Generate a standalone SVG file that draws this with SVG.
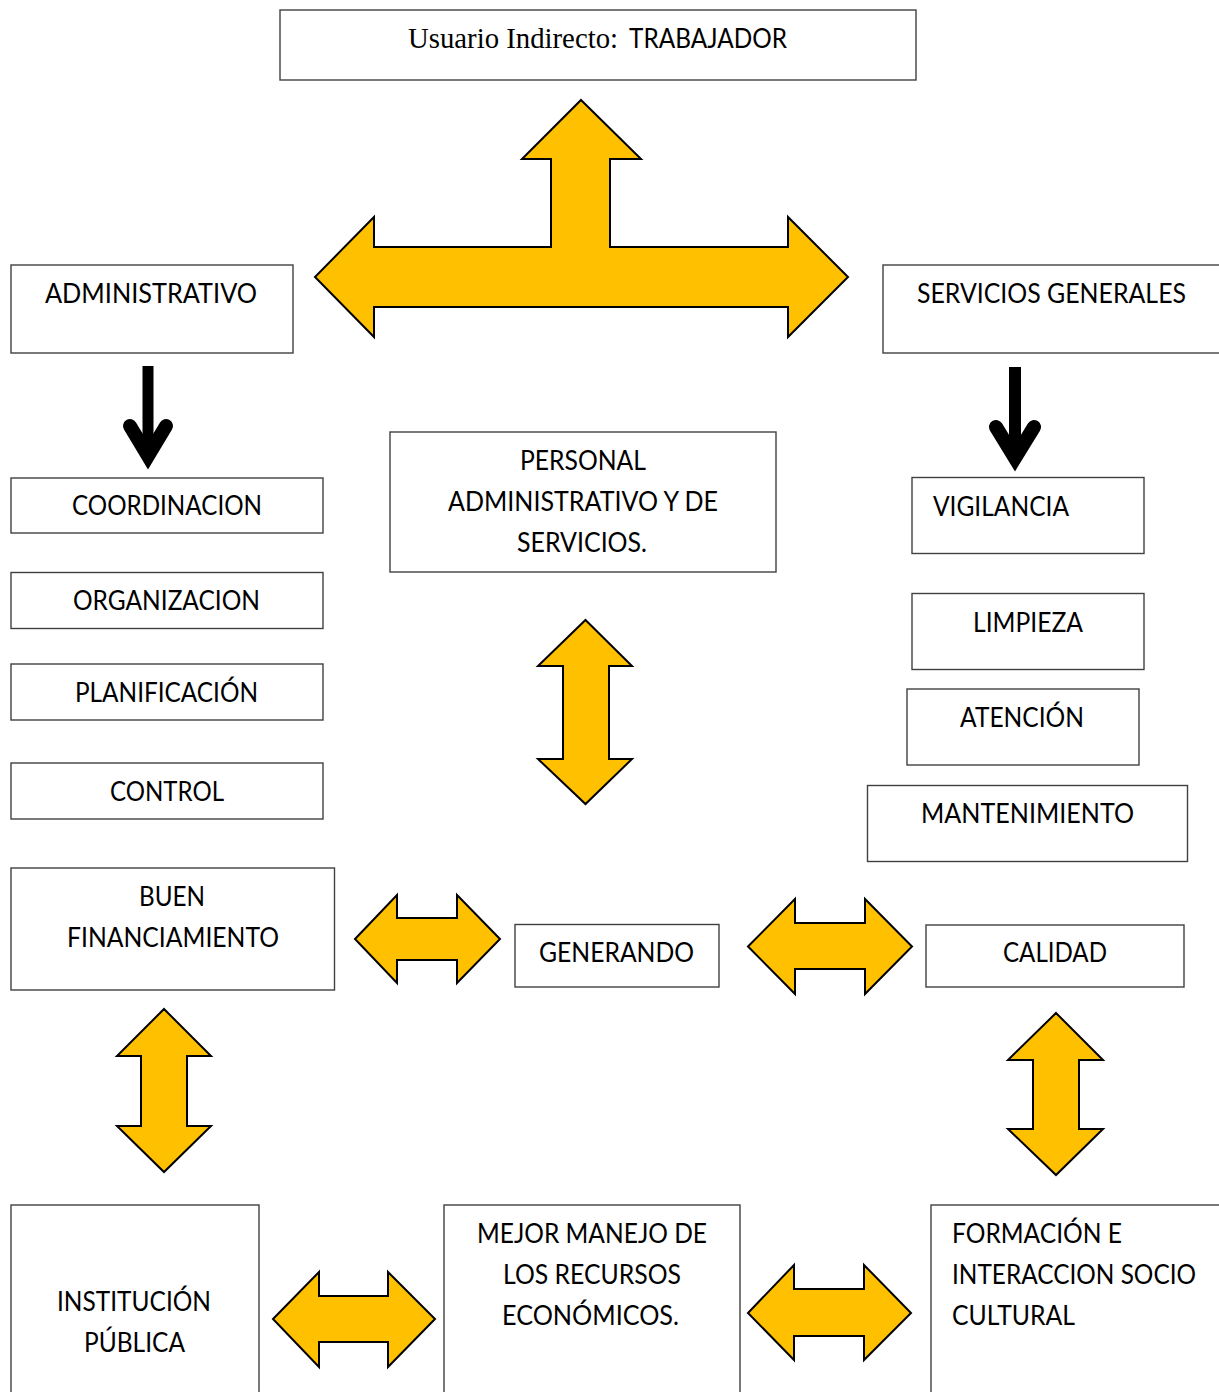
<svg xmlns="http://www.w3.org/2000/svg" width="1219" height="1392" viewBox="0 0 1219 1392">
<style>
.box{fill:#fff;stroke:#404040;stroke-width:1.4}
.t{font-family:Lato,"Open Sans","Liberation Sans",sans-serif;font-size:26px;fill:#000}
.s{font-family:"Liberation Serif","Times New Roman",serif;font-size:29px;fill:#000}
.ya{fill:#FFC000;stroke:#000;stroke-width:2;stroke-linejoin:miter}
.bk{fill:none;stroke:#000;stroke-linecap:round;stroke-linejoin:miter}
</style>
<rect width="1219" height="1392" fill="#fff"/>

<g id="connectors">
  <polygon class="ya" points="581,100 641,159 610,159 610,247 788,247 788,217 848,277 788,337 788,307 374,307 374,337 315,277 374,217 374,247 551,247 551,159 522,159"/>
  <g id="black-left">
    <line class="bk" x1="148" y1="366" x2="148" y2="456" stroke-width="11" style="stroke-linecap:butt"/>
    <polyline class="bk" points="130,426 148,456 166,426" stroke-width="14"/>
  </g>
  <g id="black-right">
    <line class="bk" x1="1015" y1="367" x2="1015" y2="457" stroke-width="12" style="stroke-linecap:butt"/>
    <polyline class="bk" points="996,427 1015,458 1034,427" stroke-width="14"/>
  </g>
  <polygon class="ya" points="585.5,620 632,666 609,666 609,759 632,759 585.5,804 538,759 563,759 563,666 538,666"/>
  <polygon class="ya" points="355,939 397,895 397,918 457,918 457,895 500,939 457,983 457,960 397,960 397,983"/>
  <polygon class="ya" points="748,946.5 795,899 795,923 865,923 865,899 912,946.5 865,994 865,969 795,969 795,994"/>
  <polygon class="ya" points="164,1009 211,1056 187,1056 187,1126 211,1126 164,1172 117,1126 141,1126 141,1056 117,1056"/>
  <polygon class="ya" points="1056,1013 1103,1060 1079,1060 1079,1129 1103,1129 1056,1175 1008,1129 1033,1129 1033,1060 1008,1060"/>
  <polygon class="ya" points="273,1319 319,1272 319,1296 388,1296 388,1272 435,1319 388,1367 388,1342 319,1342 319,1367"/>
  <polygon class="ya" points="748,1313 794,1265 794,1289 864,1289 864,1265 911,1313 864,1360 864,1336 794,1336 794,1360"/>
</g>

<g id="usuario">
  <rect class="box" x="280" y="10" width="636" height="70"/>
  <text class="s" x="408" y="48" textLength="210" lengthAdjust="spacingAndGlyphs">Usuario Indirecto:</text>
  <text class="t" x="629" y="48" textLength="158" lengthAdjust="spacingAndGlyphs">TRABAJADOR</text>
</g>
<g id="administrativo">
  <rect class="box" x="11" y="265" width="282" height="88"/>
  <text class="t" x="45" y="303" textLength="212" lengthAdjust="spacingAndGlyphs">ADMINISTRATIVO</text>
</g>
<g id="servicios">
  <rect class="box" x="883" y="265" width="350" height="88"/>
  <text class="t" x="917" y="303" textLength="269" lengthAdjust="spacingAndGlyphs">SERVICIOS GENERALES</text>
</g>
<g id="coordinacion">
  <rect class="box" x="11" y="478" width="312" height="55"/>
  <text class="t" x="72" y="515" textLength="190" lengthAdjust="spacingAndGlyphs">COORDINACION</text>
</g>
<g id="organizacion">
  <rect class="box" x="11" y="572.5" width="312" height="56"/>
  <text class="t" x="73" y="610" textLength="187" lengthAdjust="spacingAndGlyphs">ORGANIZACION</text>
</g>
<g id="planificacion">
  <rect class="box" x="11" y="664" width="312" height="56"/>
  <text class="t" x="75" y="701.5" textLength="183" lengthAdjust="spacingAndGlyphs">PLANIFICACIÓN</text>
</g>
<g id="control">
  <rect class="box" x="11" y="763" width="312" height="56"/>
  <text class="t" x="110" y="800.5" textLength="114" lengthAdjust="spacingAndGlyphs">CONTROL</text>
</g>
<g id="personal">
  <rect class="box" x="390" y="432" width="386" height="140"/>
  <text class="t" x="520" y="470" textLength="126" lengthAdjust="spacingAndGlyphs">PERSONAL</text>
  <text class="t" x="448" y="510.5" textLength="270" lengthAdjust="spacingAndGlyphs">ADMINISTRATIVO Y DE</text>
  <text class="t" x="517" y="551.5" textLength="130" lengthAdjust="spacingAndGlyphs">SERVICIOS.</text>
</g>
<g id="vigilancia">
  <rect class="box" x="912" y="477.5" width="232" height="76"/>
  <text class="t" x="933" y="516" textLength="136" lengthAdjust="spacingAndGlyphs">VIGILANCIA</text>
</g>
<g id="limpieza">
  <rect class="box" x="912" y="593.5" width="232" height="76"/>
  <text class="t" x="973" y="631.5" textLength="110" lengthAdjust="spacingAndGlyphs">LIMPIEZA</text>
</g>
<g id="atencion">
  <rect class="box" x="907" y="689" width="232" height="76"/>
  <text class="t" x="960" y="726.5" textLength="124" lengthAdjust="spacingAndGlyphs">ATENCIÓN</text>
</g>
<g id="mantenimiento">
  <rect class="box" x="867.5" y="785.5" width="320" height="76"/>
  <text class="t" x="921" y="822.5" textLength="213" lengthAdjust="spacingAndGlyphs">MANTENIMIENTO</text>
</g>
<g id="buen-financiamiento">
  <rect class="box" x="11" y="868" width="323.5" height="122"/>
  <text class="t" x="139" y="905.5" textLength="66" lengthAdjust="spacingAndGlyphs">BUEN</text>
  <text class="t" x="67" y="946.5" textLength="212" lengthAdjust="spacingAndGlyphs">FINANCIAMIENTO</text>
</g>
<g id="generando">
  <rect class="box" x="515" y="924.5" width="204" height="62.5"/>
  <text class="t" x="539" y="962" textLength="155" lengthAdjust="spacingAndGlyphs">GENERANDO</text>
</g>
<g id="calidad">
  <rect class="box" x="926" y="925" width="258" height="62"/>
  <text class="t" x="1003" y="962" textLength="104" lengthAdjust="spacingAndGlyphs">CALIDAD</text>
</g>
<g id="institucion">
  <rect class="box" x="11" y="1205" width="248" height="200"/>
  <text class="t" x="57" y="1310.5" textLength="154" lengthAdjust="spacingAndGlyphs">INSTITUCIÓN</text>
  <text class="t" x="84" y="1351.5" textLength="101" lengthAdjust="spacingAndGlyphs">PÚBLICA</text>
</g>
<g id="mejor-manejo">
  <rect class="box" x="444" y="1205" width="296" height="200"/>
  <text class="t" x="477" y="1242.5" textLength="230" lengthAdjust="spacingAndGlyphs">MEJOR MANEJO DE</text>
  <text class="t" x="503" y="1283.5" textLength="178" lengthAdjust="spacingAndGlyphs">LOS RECURSOS</text>
  <text class="t" x="502" y="1324.5" textLength="177" lengthAdjust="spacingAndGlyphs">ECONÓMICOS.</text>
</g>
<g id="formacion">
  <rect class="box" x="931" y="1205" width="300" height="200"/>
  <text class="t" x="952" y="1242.5" textLength="170" lengthAdjust="spacingAndGlyphs">FORMACIÓN E</text>
  <text class="t" x="952" y="1284" textLength="244" lengthAdjust="spacingAndGlyphs">INTERACCION SOCIO</text>
  <text class="t" x="952" y="1325" textLength="123" lengthAdjust="spacingAndGlyphs">CULTURAL</text>
</g>
</svg>
